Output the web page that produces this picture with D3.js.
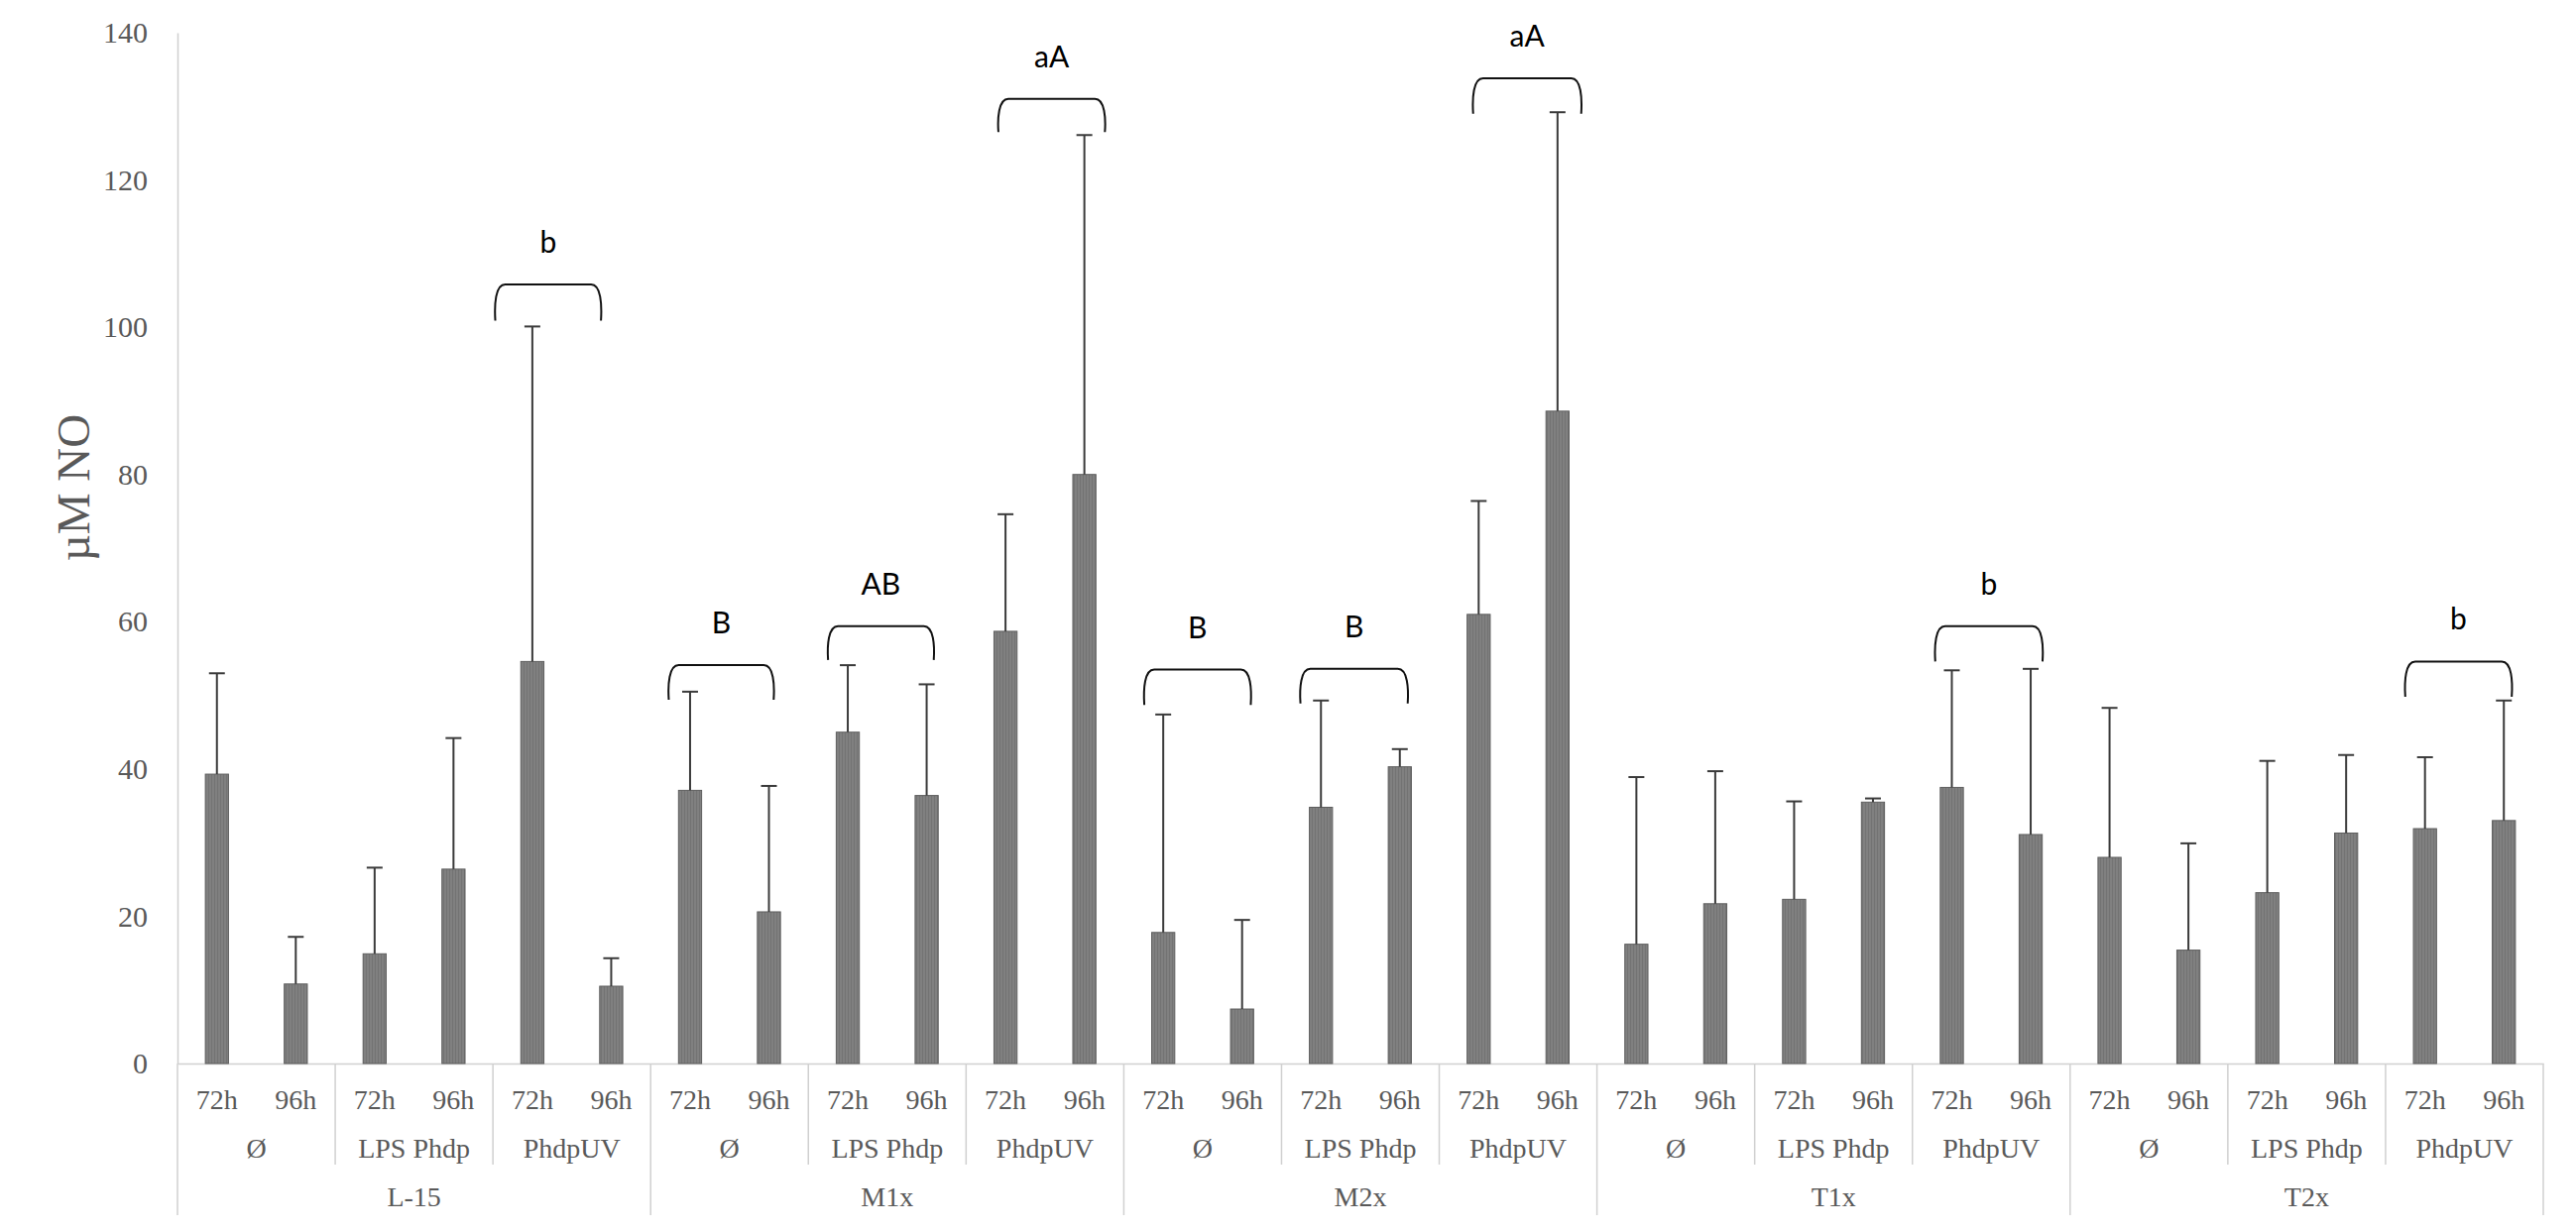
<!DOCTYPE html>
<html>
<head>
<meta charset="utf-8">
<script src="https://cdn.jsdelivr.net/npm/d3@7"></script>
<style>
  body { margin: 0; background: #fff; }
  svg { display: block; }
</style>
</head>
<body>
<div id="chart"></div>
<script>
// cell lines, treatments and time points (3 levels of the x axis)
const groups = ["L-15", "M1x", "M2x", "T1x", "T2x"];
const treatments = ["Ø", "LPS Phdp", "PhdpUV"];
const times = ["72h", "96h"];

// mean µM NO, order: group > treatment > time
const means = [
  39.3, 10.8, 14.9, 26.4, 54.6, 10.5,
  37.1, 20.6, 45.0, 36.4, 58.7, 80.0,
  17.8, 7.4, 34.8, 40.3, 61.0, 88.6,
  16.2, 21.7, 22.3, 35.5, 37.5, 31.1,
  28.0, 15.4, 23.2, 31.3, 31.9, 33.0
];
// upper error (SD)
const errs = [
  13.7, 6.4, 11.7, 17.8, 45.5, 3.8,
  13.4, 17.1, 9.1, 15.1, 15.9, 46.1,
  29.6, 12.1, 14.5, 2.4, 15.4, 40.6,
  22.7, 18.0, 13.3, 0.5, 15.9, 22.5,
  20.3, 14.5, 17.9, 10.6, 9.7, 16.3
];

// significance brackets (x in category units, y in µM)
const sigLabels = ["b", "B", "AB", "aA", "B", "B", "aA", "b", "b"];
const sigFrom = [4.03, 6.23, 8.25, 10.41, 12.26, 14.24, 16.43, 22.29, 28.25];
const sigTo = [5.37, 7.56, 9.59, 11.76, 13.61, 15.6, 17.8, 23.65, 29.6];
const sigTop = [105.8, 54.1, 59.4, 131.0, 53.5, 53.6, 133.8, 59.4, 54.6];
const sigEnd = [100.9, 49.4, 54.8, 126.5, 48.7, 48.9, 129.0, 54.6, 49.8];

const yTicks = [0, 20, 40, 60, 80, 100, 120, 140];

const W = 2598, H = 1243;
const mLeft = 179, mRight = 2565, mTop = 33, mBottom = 1073;
const serif = "'Liberation Serif', 'Times New Roman', serif";
const axisGrey = "#595959";
const lineGrey = "#d0d0d0";

// flat list of categories
let cats = [];
groups.forEach(function(g, gi) {
  treatments.forEach(function(t, ti) {
    times.forEach(function(h, hi) {
      let i = cats.length;
      cats.push({key: g + "|" + t + "|" + h, group: g, treat: t, time: h, gi: gi, ti: ti, mean: means[i], err: errs[i]});
    });
  });
});

const svg = d3.select("#chart").append("svg")
  .attr("width", W).attr("height", H);

svg.append("rect").attr("width", W).attr("height", H).attr("fill", "#fff");

// vertical stripe texture of the bars
const defs = svg.append("defs");
const pat = defs.append("pattern").attr("id", "stripes")
  .attr("patternUnits", "userSpaceOnUse").attr("width", 3).attr("height", 10);
pat.append("rect").attr("width", 3).attr("height", 10).attr("fill", "#808080");
pat.append("rect").attr("width", 1).attr("height", 10).attr("fill", "#737373");

const x = d3.scaleBand().domain(cats.map(d => d.key)).range([mLeft, mRight])
  .paddingInner(0.707).paddingOuter(0.3535);
const xu = d3.scaleLinear().domain([0, cats.length]).range([mLeft, mRight]);
const y = d3.scaleLinear().domain([0, 140]).range([mBottom, mTop]);

// y axis
const yAxis = svg.append("g").attr("transform", "translate(" + mLeft + ",0)")
  .call(d3.axisLeft(y).tickValues(yTicks).tickSize(0).tickPadding(30));
yAxis.select(".domain").attr("stroke", lineGrey).attr("stroke-width", 1.5);
yAxis.selectAll("text").attr("font-family", serif).attr("font-size", 30).attr("fill", axisGrey);

svg.append("text")
  .attr("transform", "translate(90,492) rotate(-90)")
  .attr("text-anchor", "middle")
  .attr("font-family", serif).attr("font-size", 47).attr("fill", axisGrey)
  .text("µM NO");

// x axis, level 1 (time)
const xAxis = svg.append("g").attr("transform", "translate(0," + mBottom + ")")
  .call(d3.axisBottom(x).tickSize(0).tickPadding(26).tickFormat(k => k.split("|")[2]));
xAxis.select(".domain").attr("stroke", lineGrey).attr("stroke-width", 1.5);
xAxis.selectAll("text").attr("font-family", serif).attr("font-size", 28).attr("fill", axisGrey);

// level 2 (treatment) and level 3 (group) labels + separators
const subW = xu(2) - xu(0);
const sub = d3.range(groups.length * treatments.length);
svg.selectAll(".treat").data(sub).join("text")
  .attr("x", i => xu(i * 2) + subW / 2)
  .attr("y", 1168)
  .attr("text-anchor", "middle")
  .attr("font-family", serif).attr("font-size", 28).attr("fill", axisGrey)
  .text(i => treatments[i % treatments.length]);

svg.selectAll(".sep").data(d3.range(sub.length + 1)).join("line")
  .attr("x1", i => xu(i * 2)).attr("x2", i => xu(i * 2))
  .attr("y1", mBottom)
  .attr("y2", i => i % treatments.length === 0 ? 1226 : 1175)
  .attr("stroke", lineGrey).attr("stroke-width", 1.5);

const grpW = xu(6) - xu(0);
svg.selectAll(".grp").data(groups).join("text")
  .attr("x", (g, i) => xu(i * 6) + grpW / 2)
  .attr("y", 1217)
  .attr("text-anchor", "middle")
  .attr("font-family", serif).attr("font-size", 28).attr("fill", axisGrey)
  .text(g => g);

// bars
svg.selectAll(".bar").data(cats).join("rect")
  .attr("x", d => x(d.key)).attr("width", x.bandwidth())
  .attr("y", d => y(d.mean)).attr("height", d => y(0) - y(d.mean))
  .attr("fill", "url(#stripes)").attr("stroke", "#5e5e5e").attr("stroke-width", 1);

// upper error bars
const cap = 16;
const eb = svg.append("g").attr("stroke", "#3a3a3a").attr("stroke-width", 2);
eb.selectAll(".ev").data(cats).join("line")
  .attr("x1", d => x(d.key) + x.bandwidth() / 2).attr("x2", d => x(d.key) + x.bandwidth() / 2)
  .attr("y1", d => y(d.mean)).attr("y2", d => y(d.mean + d.err));
eb.selectAll(".ec").data(cats).join("line")
  .attr("x1", d => x(d.key) + x.bandwidth() / 2 - cap / 2).attr("x2", d => x(d.key) + x.bandwidth() / 2 + cap / 2)
  .attr("y1", d => y(d.mean + d.err)).attr("y2", d => y(d.mean + d.err));

// significance brackets
const r = 10;
const sig = sigLabels.map((l, i) => ({label: l, x1: xu(sigFrom[i]), x2: xu(sigTo[i]), yt: y(sigTop[i]), ye: y(sigEnd[i])}));
svg.selectAll(".br").data(sig).join("path")
  .attr("d", d => "M" + d.x1 + "," + d.ye +
    " C" + (d.x1 - 1) + "," + (d.yt + r * 2) + " " + d.x1 + "," + d.yt + " " + (d.x1 + r) + "," + d.yt +
    " L" + (d.x2 - r) + "," + d.yt +
    " C" + d.x2 + "," + d.yt + " " + (d.x2 + 1) + "," + (d.yt + r * 2) + " " + d.x2 + "," + d.ye)
  .attr("fill", "none").attr("stroke", "#111").attr("stroke-width", 2);
svg.selectAll(".sl").data(sig).join("text")
  .attr("x", d => (d.x1 + d.x2) / 2)
  .attr("y", d => d.yt - 32)
  .attr("text-anchor", "middle")
  .attr("font-family", "Lato, 'Open Sans', sans-serif").attr("font-size", 30).attr("fill", "#000")
  .text(d => d.label);
</script>
</body>
</html>
